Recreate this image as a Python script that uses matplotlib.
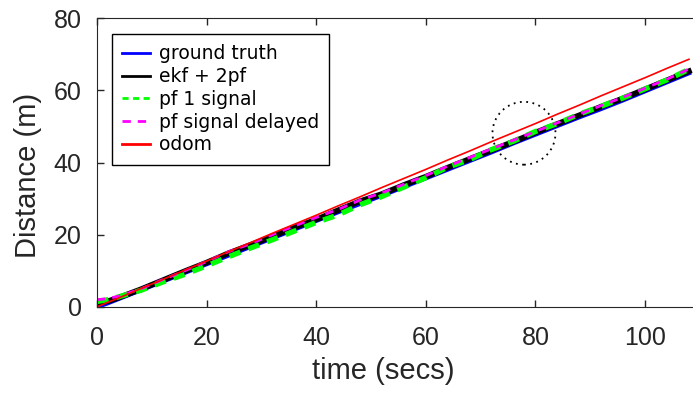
import matplotlib
matplotlib.use("Agg")
import matplotlib.pyplot as plt
from matplotlib.patches import Ellipse

# data
t = [0, 2, 4, 8, 12, 16, 20, 24, 28, 32, 36, 40, 44, 48, 52, 56, 60, 64, 68, 72,
     76, 80, 84, 88, 92, 96, 100, 104, 108]
ground_truth = [0, 1.1, 2.3, 4.7, 7.1, 9.5, 11.9, 14.3, 16.7, 19.1, 21.5, 23.9, 26.3, 28.6,
                30.9, 33.3, 35.7, 38.1, 40.5, 42.9, 45.4, 47.8, 50.2, 52.6, 54.9, 57.3,
                59.8, 62.3, 64.8]
ekf_2pf = [1.0, 1.6, 2.6, 4.9, 7.4, 9.9, 12.3, 14.9, 17.2, 19.5, 22.0, 24.2, 26.8, 29.3,
           31.3, 33.8, 36.1, 38.6, 41.0, 43.4, 45.8, 48.3, 50.7, 53.1, 55.5, 57.8, 60.3,
           62.8, 65.3]
pf_1signal = [1.5, 2.0, 2.8, 4.6, 6.9, 9.0, 11.4, 13.9, 16.3, 18.6, 21.0, 23.4, 25.5, 28.3,
              30.6, 33.2, 35.8, 38.7, 40.8, 43.6, 45.9, 48.6, 50.8, 53.4, 55.6, 57.9,
              60.4, 62.9, 65.8]
pf_delayed = [2.0, 2.3, 3.0, 5.0, 7.6, 10.0, 12.6, 15.3, 17.5, 20.0, 22.4, 24.8, 27.0, 29.6,
              31.6, 34.0, 36.4, 39.0, 41.4, 43.8, 46.2, 48.6, 51.0, 53.4, 55.8, 58.1,
              60.6, 63.1, 65.9]
odom = [0, 1.3, 2.5, 5.1, 7.6, 10.2, 12.7, 15.3, 17.8, 20.4, 22.9, 25.4, 28.0, 30.5,
        33.1, 35.6, 38.1, 40.7, 43.2, 45.8, 48.3, 50.8, 53.4, 55.9, 58.5, 61.0, 63.5,
        66.1, 68.6]

txt = '#262626'
plt.rcParams['font.family'] = ['Liberation Sans', 'DejaVu Sans']

fig = plt.figure(figsize=(6.93, 3.94), dpi=100)
# axes runs past the right edge (the original was cropped)
ax = fig.add_axes([0.14, 0.221, 0.885, 0.733])

ax.plot(t, ground_truth, color='#0000ff', lw=3.3, label='ground truth')
ax.plot(t, ekf_2pf, color='black', lw=4.0, label='ekf + 2pf')
ax.plot(t, pf_1signal, color='#00ff00', lw=3.8, linestyle=(0, (2.2, 1.6)), label='pf 1 signal')
ax.plot(t, pf_delayed, color='#ff00ff', lw=2.0, linestyle=(0, (3.0, 2.5)), label='pf signal delayed')
ax.plot(t, odom, color='#ff0000', lw=1.2, label='odom')

ax.add_patch(Ellipse((77.9, 48.1), 11.5, 17.4, fill=False, linestyle=(0, (1, 2.5)),
                     lw=1.3, edgecolor='black'))

ax.set_xlim(0, 111.9)
ax.set_ylim(0, 80)
ax.set_xticks([0, 20, 40, 60, 80, 100])
ax.set_yticks([0, 20, 40, 60, 80])
ax.tick_params(direction='in', length=5, width=1, colors=txt, labelsize=18,
               top=True, right=False)
ax.tick_params(axis='x', pad=14)
ax.tick_params(axis='y', pad=11)
ax.spines['right'].set_visible(False)
for s in ['left', 'top', 'bottom']:
    ax.spines[s].set_color(txt)
ax.set_xlabel('time (secs)', fontsize=21, color=txt)
ax.set_ylabel('Distance (m)', fontsize=21, color=txt)
ax.xaxis.set_label_coords(0.466, -0.175)
ax.yaxis.set_label_coords(-0.09, 0.457)

leg = ax.legend(loc='upper left', bbox_to_anchor=(0.0245, 0.945), borderaxespad=0,
                frameon=True, fancybox=False, framealpha=1, edgecolor='black',
                labelspacing=0.2, handlelength=1.5, handletextpad=0.45, borderpad=0.55,
                prop={'family': 'DejaVu Sans', 'size': 13.5})
leg.get_frame().set_linewidth(1.0)
for ln in leg.get_lines():
    ln.set_linewidth(2.0)

fig.savefig("out.png", dpi=100)
